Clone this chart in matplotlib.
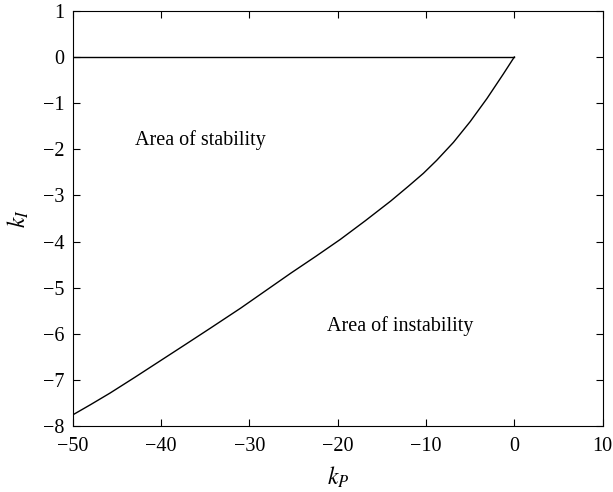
import numpy as np
import matplotlib
matplotlib.use("Agg")
import matplotlib.pyplot as plt

plt.rcParams['font.family'] = ['Liberation Serif', 'DejaVu Serif']
plt.rcParams['mathtext.fontset'] = 'stix'

# stability boundary
kp_curve = [0.0, -1.25, -3.1, -5.0, -6.9, -8.8, -10.3, -12.0, -14.0, -16.9, -19.7, -22.5,
            -25.3, -28.0, -31.0, -34.4, -37.2, -40.1, -43.0, -45.8, -48.0, -50.0]
ki_curve = [0.0, -0.37, -0.90, -1.40, -1.85, -2.24, -2.52, -2.80, -3.12, -3.55, -3.95, -4.32,
            -4.68, -5.04, -5.44, -5.87, -6.22, -6.58, -6.94, -7.28, -7.53, -7.75]

# upper boundary (ki = 0)
kp_top = [-50.0, 0.0]
ki_top = [0.0, 0.0]

xticks = [-50, -40, -30, -20, -10, 0, 10]
yticks = [1, 0, -1, -2, -3, -4, -5, -6, -7, -8]

def fmt(t):
    return f'\u2212{abs(t)}' if t < 0 else str(t)

fig = plt.figure(figsize=(6.13, 4.92), dpi=100)
ax = fig.add_axes([0.119, 0.1335, 0.864, 0.8445])

ax.plot(kp_top, ki_top, color='black', lw=1.0)
ax.plot(kp_curve, ki_curve, color='black', lw=1.0)

ax.text(-42.95, -1.8, 'Area of stability', fontsize=14.5, va='center', ha='left')
ax.text(-21.25, -5.83, 'Area of instability', fontsize=14.5, va='center', ha='left')

ax.set_xlim(-50, 10)
ax.set_ylim(-8, 1)
ax.set_xticks(xticks)
ax.set_yticks(yticks)
ax.set_xticklabels([fmt(t) for t in xticks])
ax.set_yticklabels([fmt(t) for t in yticks])
ax.tick_params(direction='in', top=True, right=True, labelsize=14.5, length=5, width=0.8)
ax.tick_params(axis='y', pad=6)
ax.tick_params(axis='x', pad=8)
for s in ax.spines.values():
    s.set_linewidth(0.8)

ax.set_xlabel('$k_P$', fontsize=17, labelpad=6)
ax.set_ylabel('$k_I$', fontsize=17, labelpad=9)

fig.savefig('out.png', dpi=100)
